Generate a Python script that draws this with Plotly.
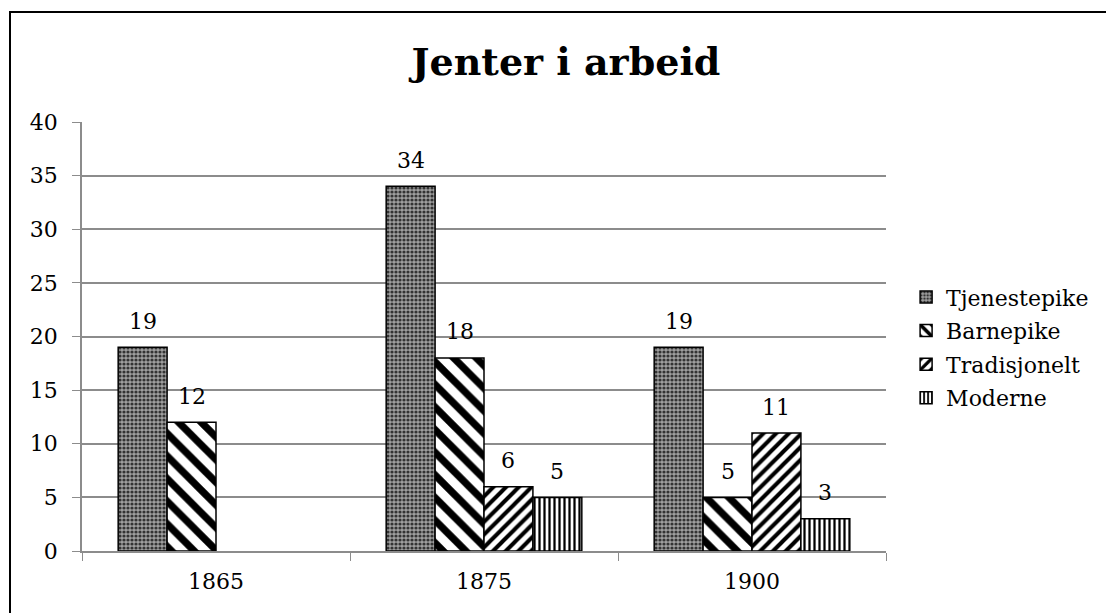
import plotly.graph_objects as go

years = ["1865", "1875", "1900"]
series_names = ["Tjenestepike", "Barnepike", "Tradisjonelt", "Moderne"]
tjenestepike = [19, 34, 19]
barnepike = [12, 18, 5]
tradisjonelt = [None, 6, 11]
moderne = [None, 5, 3]
y_ticks = [0, 5, 10, 15, 20, 25, 30, 35, 40]

values = [tjenestepike, barnepike, tradisjonelt, moderne]
patterns = [
    dict(shape=".", fgcolor="#333333", bgcolor="#a0a0a0", size=4, solidity=0.5, fillmode="replace"),
    dict(shape="\\", fgcolor="black", bgcolor="white", size=16, solidity=0.45, fillmode="replace"),
    dict(shape="/", fgcolor="black", bgcolor="white", size=9, solidity=0.45, fillmode="replace"),
    dict(shape="|", fgcolor="black", bgcolor="white", size=5, solidity=0.45, fillmode="replace"),
]

FONT = "DejaVu Serif"
W, H = 1106, 605          # page body has an 8px margin
ML, MR, MT, MB = 74, 228, 114, 62
plot_w = W - ML - MR
plot_h = H - MT - MB

fig = go.Figure()
for name, vals, pat in zip(series_names, values, patterns):
    fig.add_trace(go.Bar(
        name=name, x=years, y=vals, legendgroup=name,
        marker=dict(color="white", pattern=pat, line=dict(color="black", width=1.5)),
    ))

# data labels
bargap = 0.27
ncat = len(years)
cat_w = plot_w / ncat
bar_w = cat_w * (1 - bargap) / len(series_names)
annotations = []
for i, vals in enumerate(values):
    off = (i - (len(series_names) - 1) / 2) * bar_w
    for ci, v in enumerate(vals):
        if v is None:
            continue
        annotations.append(dict(
            x=ci, y=v, xref="x", yref="y", text=str(v), showarrow=False,
            xshift=off, yshift=26, font=dict(family=FONT, size=22, color="black"),
        ))

# outer border
x0 = (2 - ML) / plot_w
y1 = (H - MB - 4) / plot_h
fig.add_shape(type="rect", xref="paper", yref="paper", x0=x0, x1=1.6, y0=-0.6, y1=y1,
              line=dict(color="black", width=2), fillcolor="rgba(0,0,0,0)", layer="below")

fig.update_layout(
    width=W, height=H,
    margin=dict(l=ML, r=MR, t=MT, b=MB),
    paper_bgcolor="white", plot_bgcolor="white",
    barmode="group", bargap=bargap, bargroupgap=0,
    title=dict(text="<b>Jenter i arbeid</b>", x=0.5045, xanchor="center", y=0.911, yanchor="middle",
               font=dict(family=FONT, size=38, color="black")),
    font=dict(family=FONT, size=22, color="black"),
    legend=dict(x=1.025, y=0.474, xanchor="left", yanchor="middle",
                font=dict(family=FONT, size=22, color="black"),
                itemwidth=30, tracegroupgap=2, bgcolor="rgba(0,0,0,0)"),
    annotations=annotations,
    showlegend=True,
)
fig.update_xaxes(type="category", range=[-0.5, 2.5], showline=True, linecolor="#8c8c8c", linewidth=1.5,
                 ticks="outside", tickson="boundaries", ticklen=8, tickcolor="#8c8c8c",
                 ticklabelstandoff=10,
                 tickfont=dict(family=FONT, size=22, color="black"), showgrid=False)
fig.update_yaxes(range=[0, 40], tickvals=y_ticks, showline=True, linecolor="#8c8c8c", linewidth=1.5,
                 ticks="outside", ticklen=8, tickcolor="#8c8c8c", gridcolor="#8c8c8c", gridwidth=1.5,
                 ticklabelstandoff=10,
                 tickfont=dict(family=FONT, size=22, color="black"), zeroline=False)

fig.write_html("out.html")
